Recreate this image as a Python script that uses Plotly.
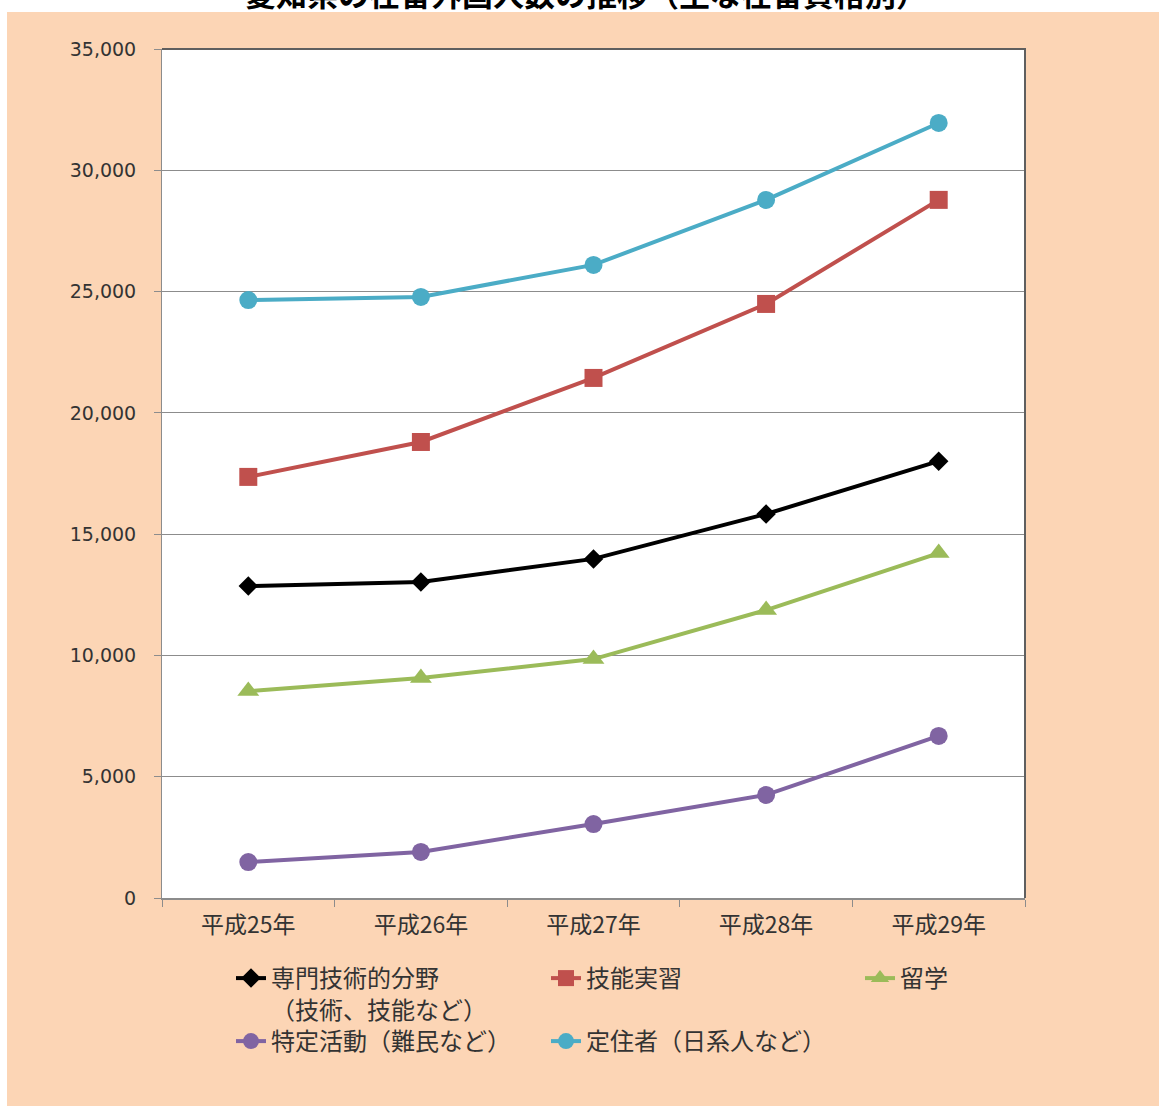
import plotly.graph_objects as go

# Years (Heisei era) shown on the category axis
years = ["平成25年", "平成26年", "平成27年", "平成28年", "平成29年"]

# Foreign residents by status of residence
senmon = [12860, 13030, 13980, 15830, 18010]     # 専門技術的分野（技術、技能など）
ginou = [17360, 18800, 21440, 24490, 28780]      # 技能実習
ryugaku = [8530, 9070, 9850, 11870, 14220]       # 留学
tokutei = [1480, 1900, 3050, 4250, 6680]         # 特定活動（難民など）
teiju = [24650, 24780, 26100, 28780, 31950]      # 定住者（日系人など）

y_ticks = [0, 5000, 10000, 15000, 20000, 25000, 30000, 35000]

W, H = 1159, 1106
ML, MR, MT, MB = 162, 134, 49, 208
PW, PH = W - ML - MR, H - MT - MB


def px_x(x):
    return (x - ML) / PW


def px_y(y):
    return (H - MB - y) / PH


fig = go.Figure()

# name, values, colour, marker symbol, marker size, legend id, legend box (left, top) in px
series = [
    ("専門技術的分野<br>（技術、技能など）", senmon, "#000000", "diamond", 15, "legend", (231, 956)),
    ("技能実習", ginou, "#C0504D", "square", 18, "legend2", (546, 956)),
    ("留学", ryugaku, "#9BBB59", "triangle-up", 19, "legend3", (860, 956)),
    ("特定活動（難民など）", tokutei, "#8064A2", "circle", 18, "legend4", (231, 1019)),
    ("定住者（日系人など）", teiju, "#4BACC6", "circle", 18, "legend5", (546, 1019)),
]

legend_font = dict(family="Noto Sans CJK JP", size=24, color="#333333")
legends = {}

for name, vals, color, sym, size, leg, (lx, ly) in series:
    fig.add_trace(go.Scatter(
        x=years, y=vals, name=name, mode="lines+markers",
        line=dict(color=color, width=4),
        marker=dict(symbol=sym, size=size, color=color),
        legend=leg,
    ))
    legends[leg] = dict(
        orientation="v", x=px_x(lx), xanchor="left", y=px_y(ly), yanchor="top",
        valign="top", font=legend_font, bgcolor="rgba(0,0,0,0)",
    )

fig.update_layout(
    width=W, height=H,
    margin=dict(l=ML, r=MR, t=MT, b=MB),
    paper_bgcolor="#FCD5B5",
    plot_bgcolor="#FFFFFF",
    showlegend=True,
    **legends,
    xaxis=dict(
        type="category", range=[-0.5, 4.5],
        showline=True, linecolor="#8C8C8C", linewidth=1.5,
        ticks="outside", tickson="boundaries", ticklen=7, tickcolor="#8C8C8C",
        ticklabelstandoff=6,
        showgrid=False, zeroline=False,
        tickfont=dict(family="Noto Sans CJK JP", size=23, color="#333333"),
    ),
    yaxis=dict(
        range=[0, 35000], tickvals=y_ticks, tickformat=",d",
        showline=True, linecolor="#8C8C8C", linewidth=1,
        ticks="outside", ticklen=7, tickcolor="#8C8C8C", ticklabelstandoff=14,
        showgrid=True, gridcolor="#8C8C8C", gridwidth=1, zeroline=False,
        tickfont=dict(family="DejaVu Sans", size=19, color="#333333"),
    ),
    shapes=[
        # darker frame on the top and right of the plot area
        dict(type="path", xref="paper", yref="paper",
             path="M 0,1 L 1,1 L 1,0", line=dict(color="#5F5F5F", width=2)),
        # white margin around the chart area
        dict(type="rect", xref="paper", yref="paper",
             x0=px_x(-5), x1=px_x(W + 5), y0=px_y(12), y1=px_y(-30),
             fillcolor="#FFFFFF", line=dict(width=0), layer="above"),
        dict(type="rect", xref="paper", yref="paper",
             x0=px_x(-5), x1=px_x(7), y0=px_y(H + 5), y1=px_y(12),
             fillcolor="#FFFFFF", line=dict(width=0), layer="above"),
    ],
    annotations=[
        dict(text="<b>愛知県の在留外国人数の推移（主な在留資格別）</b>",
             xref="paper", yref="paper", x=px_x(586), y=px_y(-7),
             xanchor="center", yanchor="middle", showarrow=False,
             font=dict(family="Noto Sans CJK JP", size=31, color="#000000")),
    ],
)

fig.write_html("out.html")
